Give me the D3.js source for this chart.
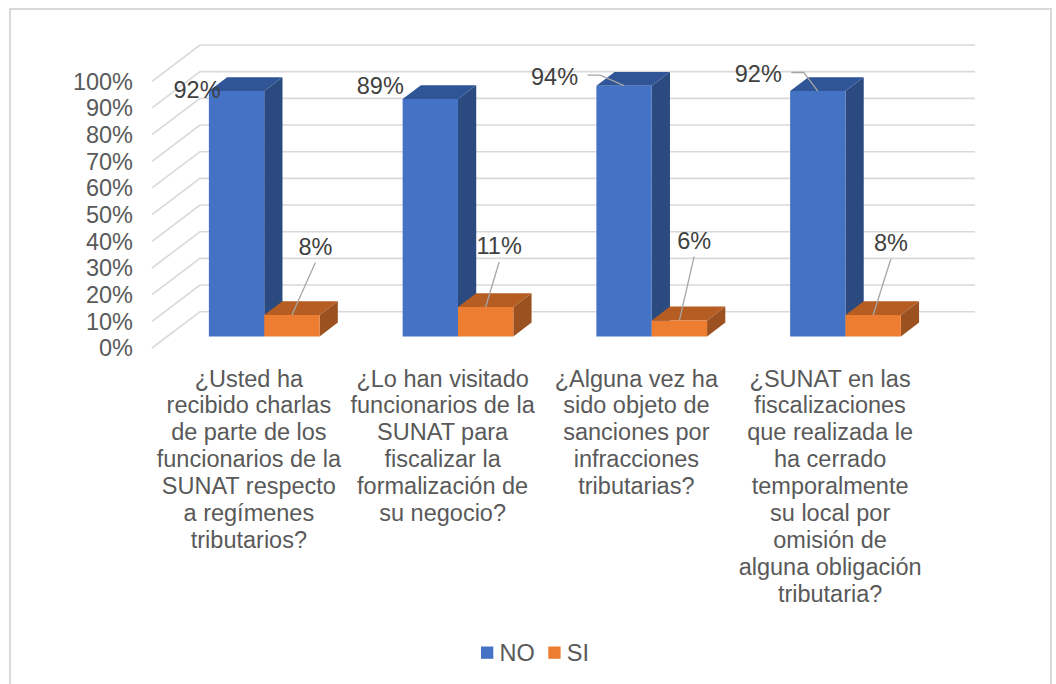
<!DOCTYPE html>
<html>
<head>
<meta charset="utf-8">
<script src="https://cdn.jsdelivr.net/npm/d3@7"></script>
<style>
  html, body { margin: 0; padding: 0; background: #fff; }
  svg { display: block; font-family: "Liberation Sans", Arial, sans-serif; }
</style>
</head>
<body>
<svg id="chart" width="1056" height="684"></svg>
<script>
// ---------- DATA ----------
const categoryLines = [
  ["¿Usted ha", "recibido charlas", "de parte de los", "funcionarios de la", "SUNAT respecto", "a regímenes", "tributarios?"],
  ["¿Lo han visitado", "funcionarios de la", "SUNAT para", "fiscalizar la", "formalización de", "su negocio?"],
  ["¿Alguna vez ha", "sido objeto de", "sanciones por", "infracciones", "tributarias?"],
  ["¿SUNAT en las", "fiscalizaciones", "que realizada le", "ha cerrado", "temporalmente", "su local por", "omisión de", "alguna obligación", "tributaria?"]
];
const seriesNames = ["NO", "SI"];
const noValues = [0.92, 0.89, 0.94, 0.92];
const siValues = [0.08, 0.11, 0.06, 0.08];
const tickValues = [0, 0.1, 0.2, 0.3, 0.4, 0.5, 0.6, 0.7, 0.8, 0.9, 1.0];

// ---------- LAYOUT / STYLE ----------
const W = 1056, H = 684;
const FONT = 23.5;
const depthVec = [48, -36.3];           // full floor depth projection
const barDepth = [0.32, 0.70];          // bar position within depth
const colors = {
  NO: { front: "#4472C4", top: "#2F5597", side: "#2A4A80" },
  SI: { front: "#ED7D31", top: "#B55D22", side: "#9C5220" }
};
// label offsets (from bar front-top center), label layout only
const noLabelOffset = [[-39.5, -1], [-50, -13], [-69.5, -9], [-59.5, -17]];
const noLeader = [false, false, true, true];
const siLabelOffset = [[23.5, -68.5], [13.5, -61], [14.7, -79.7], [17.7, -72]];

const svg = d3.select("#chart");

// outer border
svg.append("rect")
  .attr("x", 10).attr("y", 9).attr("width", 1041).attr("height", 700)
  .attr("fill", "#fff").attr("stroke", "#d9d9d9").attr("stroke-width", 2);

const x0 = d3.scaleBand().domain(d3.range(categoryLines.length)).range([152, 927]).padding(0);
const x1 = d3.scaleBand().domain(seriesNames).range([0, x0.bandwidth()]).paddingInner(0).paddingOuter(0.75);
const y = d3.scaleLinear().domain([0, 1]).range([348, 81.3]);

function P(xf, v, d) {
  return [xf + d * depthVec[0], y(v) + d * depthVec[1]];
}

// gridlines (floor diagonal + back wall)
const grid = svg.append("g");
tickValues.forEach(t => {
  const a = P(x0.range()[0], t, 0);
  const b = P(x0.range()[0], t, 1);
  const c = P(x0.range()[1], t, 1);
  grid.append("path")
    .attr("d", d3.line()([a, b, c]))
    .attr("fill", "none").attr("stroke", "#d9d9d9").attr("stroke-width", 1.6);
});

// tick labels
svg.append("g").selectAll("text").data(tickValues).join("text")
  .attr("x", 133).attr("y", d => y(d)).attr("dy", "0.35em")
  .attr("text-anchor", "end").attr("font-size", FONT).attr("fill", "#595959")
  .text(d => d3.format(".0%")(d));

// bars
const bars = [];
categoryLines.forEach((c, i) => {
  bars.push({ i, s: "NO", v: noValues[i] });
  bars.push({ i, s: "SI", v: siValues[i] });
});
const barG = svg.append("g");
const line = d3.line();
bars.forEach(b => {
  const xl = x0(b.i) + x1(b.s), xr = xl + x1.bandwidth();
  const d0 = barDepth[0], d1 = barDepth[1];
  const g = barG.append("g");
  // side face
  g.append("path").attr("d", line([P(xr, b.v, d0), P(xr, b.v, d1), P(xr, 0, d1), P(xr, 0, d0)]) + "Z")
    .attr("fill", colors[b.s].side);
  // top face
  g.append("path").attr("d", line([P(xl, b.v, d0), P(xr, b.v, d0), P(xr, b.v, d1), P(xl, b.v, d1)]) + "Z")
    .attr("fill", colors[b.s].top);
  // front face
  g.append("path").attr("d", line([P(xl, 0, d0), P(xr, 0, d0), P(xr, b.v, d0), P(xl, b.v, d0)]) + "Z")
    .attr("fill", colors[b.s].front);
  b.topCenter = P((xl + xr) / 2, b.v, d0);
});

// data labels
const lblG = svg.append("g");
bars.forEach(b => {
  const off = b.s === "NO" ? noLabelOffset[b.i] : siLabelOffset[b.i];
  const cx = b.topCenter[0] + off[0], cy = b.topCenter[1] + off[1];
  const txt = d3.format(".0%")(b.v);
  if (b.s === "SI") {
    lblG.append("path").attr("d", line([[cx, cy + 16], b.topCenter]))
      .attr("stroke", "#a6a6a6").attr("stroke-width", 1.3).attr("fill", "none");
  } else if (noLeader[b.i]) {
    const sx = cx + 33;
    lblG.append("path").attr("d", line([[sx, cy - 1.5], [sx + 12.5, cy - 1.5], b.topCenter]))
      .attr("stroke", "#a6a6a6").attr("stroke-width", 1.3).attr("fill", "none");
  }
  lblG.append("text").attr("x", cx).attr("y", cy).attr("dy", "0.35em")
    .attr("text-anchor", "middle").attr("font-size", FONT).attr("fill", "#404040")
    .text(txt);
});

// category labels
const catG = svg.append("g");
categoryLines.forEach((lines, i) => {
  const cx = x0(i) + x0.bandwidth() / 2;
  const t = catG.append("text").attr("text-anchor", "middle")
    .attr("font-size", FONT).attr("fill", "#595959");
  lines.forEach((ln, k) => {
    t.append("tspan").attr("x", cx).attr("y", 378.3 + k * 26.9).attr("dy", "0.35em").text(ln);
  });
});

// legend
const legend = svg.append("g");
const legendX = [481, 548.3];
seriesNames.forEach((s, k) => {
  legend.append("rect").attr("x", legendX[k]).attr("y", 646.5).attr("width", 12.3).attr("height", 12.3)
    .attr("fill", colors[s].front);
  legend.append("text").attr("x", legendX[k] + 18.5).attr("y", 653).attr("dy", "0.35em")
    .attr("font-size", FONT).attr("fill", "#595959").text(s);
});
</script>
</body>
</html>
